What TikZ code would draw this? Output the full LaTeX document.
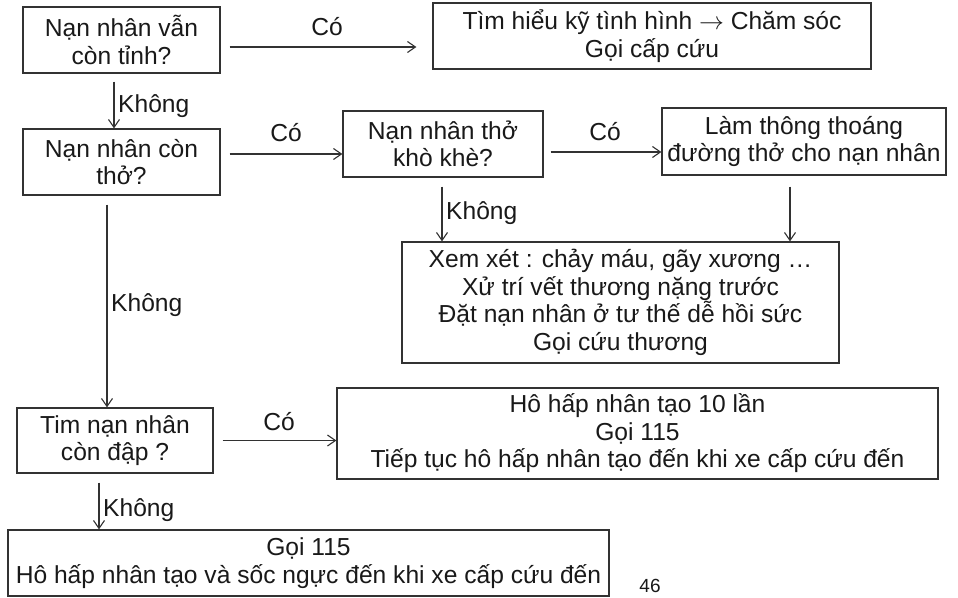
\documentclass[tikz,border=0pt]{standalone}
\usepackage{fontspec}
\setmainfont{Liberation Sans}
\usetikzlibrary{arrows.meta}
\definecolor{ln}{RGB}{50,50,50}
\definecolor{tx}{RGB}{25,25,25}
\begin{document}
\begin{tikzpicture}[x=1pt,y=-1pt,
  box/.style={draw=ln, line width=1.2pt, inner sep=0pt, align=center, text=tx,
    font=\fontsize{24.6}{27.5}\selectfont},
  lbl/.style={inner sep=0pt, text=tx, font=\fontsize{24.6}{27.5}\selectfont},
  arr/.style={draw=ln, line width=1.1pt, -{Straight Barb[length=8pt,width=11pt]}}]
\fill[white] (0,0) rectangle (958,597);
\useasboundingbox (0,0) rectangle (958,597);

% boxes
\node[box, minimum width=197pt, minimum height=66pt] (A) at (121.5,40) {Nạn nhân vẫn\\còn tỉnh?};
\node[box, minimum width=438pt, minimum height=66pt] (B) at (652,36) {Tìm hiểu kỹ tình hình $\rightarrow$ Chăm sóc\\Gọi cấp cứu};
\node[box, minimum width=197pt, minimum height=66pt] (C) at (121.5,162) {Nạn nhân còn\\thở?};
\node[box, minimum width=200pt, minimum height=66pt] (D) at (443,144) {Nạn nhân thở\\khò khè?};
\node[box, minimum width=284pt, minimum height=67pt] (E) at (804,141.5) {Làm thông thoáng\\đường thở cho nạn nhân};
\node[box, minimum width=437pt, minimum height=121pt] (F) at (620.5,302.5) {Xem xét : chảy máu, gãy xương …\\Xử trí vết thương nặng trước\\Đặt nạn nhân ở tư thế dễ hồi sức\\Gọi cứu thương};
\node[box, minimum width=196pt, minimum height=65pt] (T) at (115,440.5) {Tim nạn nhân\\còn đập ?};
\node[box, minimum width=601pt, minimum height=91pt] (G) at (637.5,433.5) {Hô hấp nhân tạo 10 lần\\Gọi 115\\Tiếp tục hô hấp nhân tạo đến khi xe cấp cứu đến};
\node[box, minimum width=601pt, minimum height=66pt] (H) at (308.5,563) {Gọi 115\\Hô hấp nhân tạo và sốc ngực đến khi xe cấp cứu đến};

% connectors
\draw[arr, shorten <=9pt, shorten >=16pt] ([yshift=-7pt]A.east) -- ([yshift=-7pt]A.east -| B.west);
\draw[arr, shorten <=8pt] ([xshift=-7.5pt]A.south) -- ([xshift=-7.5pt]A.south |- C.north);
\draw[arr, shorten <=9pt] ([yshift=8pt]C.east) -- ([yshift=8pt]C.east -| D.west);
\draw[arr, shorten <=7pt] ([yshift=-8pt]D.east) -- ([yshift=-8pt]D.east -| E.west);
\draw[arr, shorten <=9pt] ([xshift=-1pt]D.south) -- ([xshift=-1pt]D.south |- F.north);
\draw[arr, shorten <=11pt] ([xshift=-14pt]E.south) -- ([xshift=-14pt]E.south |- F.north);
\draw[arr, shorten <=9pt] ([xshift=-14.5pt]C.south) -- ([xshift=-14.5pt]C.south |- T.north);
\draw[arr, shorten <=9pt] (T.east) -- (T.east -| G.west);
\draw[arr, shorten <=9pt] ([xshift=-16pt]T.south) -- ([xshift=-16pt]T.south |- H.north);

% labels
\node[lbl] (l1) at (327,27) {Có};
\node[lbl, anchor=west] (l2) at (118,106) {Không};
\node[lbl] (l3) at (286,133) {Có};
\node[lbl] (l4) at (605,132) {Có};
\node[lbl, anchor=west] (l5) at (446,213) {Không};
\node[lbl, anchor=west] (l6) at (111,305) {Không};
\node[lbl] (l7) at (279,422) {Có};
\node[lbl, anchor=west] (l8) at (103,510) {Không};
\node[inner sep=0pt, text=tx, font=\fontsize{19}{21}\selectfont] (pg) at (650,586) {46};
\end{tikzpicture}
\end{document}
